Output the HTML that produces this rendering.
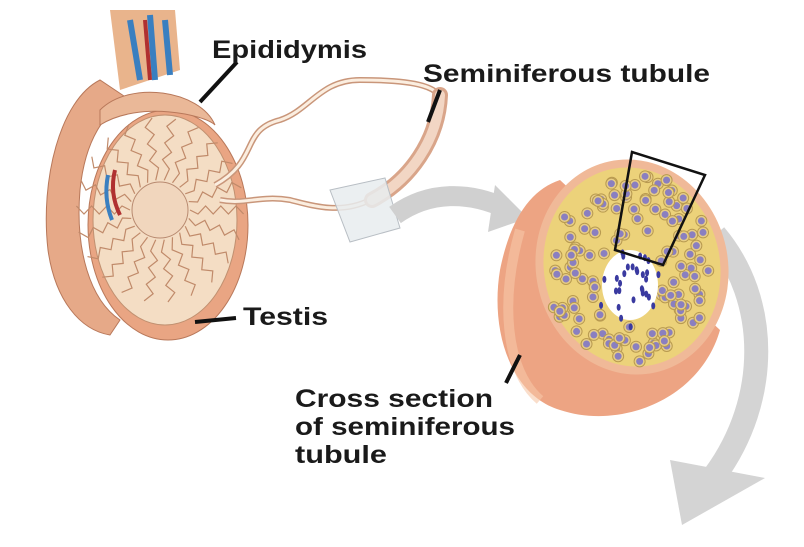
<!DOCTYPE html>
<html><head><meta charset="utf-8"><style>
html,body{margin:0;padding:0;background:#fff;width:804px;height:547px;overflow:hidden}
svg{display:block}
text{font-family:"Liberation Sans",sans-serif;font-weight:bold;fill:#1a1a1a}
</style></head><body>
<svg id="s" width="804" height="547" viewBox="0 0 804 547">
<path d="M110,10 L175,10 L180,70 L120,90 Z" fill="#e9b48c"/>
<path d="M130,20 L140,80 M150,15 L155,80 M165,20 L170,75" stroke="#3a7fc0" stroke-width="6" fill="none"/>
<path d="M145,20 L150,80" stroke="#b03030" stroke-width="4"/>
<path d="M100,80 C60,100 40,180 48,250 C55,300 80,330 110,335 L120,320 C90,300 75,250 80,190 C85,140 105,110 130,100 Z" fill="#e6a988" stroke="#b8785a"/>
<ellipse cx="168" cy="225" rx="80" ry="115" fill="#e9a583" stroke="#b8785a"/>
<ellipse cx="165" cy="220" rx="72" ry="105" fill="#f4ddc4" stroke="#c09070"/>
<path d="M100,110 C130,80 200,90 215,125 C205,115 140,100 100,125 Z" fill="#eab898" stroke="#b8785a"/>
<g id="lobes" stroke="#c08a6a" stroke-width="1.2" fill="none"></g>
<circle cx="160" cy="210" r="28" fill="#f1d6bd" stroke="#b88a70"/>
<path d="M115,170 C110,190 115,205 120,215" stroke="#b03030" stroke-width="4" fill="none"/>
<path d="M108,175 C104,195 108,210 112,220" stroke="#3a7fc0" stroke-width="4" fill="none"/>
<path d="M215,185 C260,160 240,130 280,120 C310,110 320,80 360,80 C410,80 450,85 440,110 C430,150 400,185 370,200 C340,215 310,205 290,200 C260,195 245,205 220,200" stroke="#c9967a" stroke-width="6" fill="none"/>
<path d="M215,185 C260,160 240,130 280,120 C310,110 320,80 360,80 C410,80 450,85 440,110 C430,150 400,185 370,200 C340,215 310,205 290,200 C260,195 245,205 220,200" stroke="#fbeee0" stroke-width="3" fill="none"/>
<path d="M440,95 C438,140 410,180 372,200" stroke="#d9a58a" stroke-width="16" fill="none" stroke-linecap="round"/>
<path d="M440,95 C438,140 410,180 372,200" stroke="#f2d6c4" stroke-width="10" fill="none" stroke-linecap="round"/>
<path d="M330,190 L385,178 L400,228 L350,242 Z" fill="#e8ecef" fill-opacity="0.85" stroke="#b8bec4"/>
<path d="M395,215 C430,190 470,192 505,208" stroke="#d0d0d0" stroke-width="20" fill="none"/>
<polygon points="495,185 528,218 488,232" fill="#d0d0d0"/>
<path d="M715,235 C770,300 770,400 715,475" stroke="#d4d4d4" stroke-width="24" fill="none"/>
<polygon points="670,460 765,478 682,525" fill="#d4d4d4"/>
<path d="M560,180 L720,330 C700,400 620,430 560,410 C510,395 490,330 500,270 C510,220 530,190 560,180 Z" fill="#eda483"/>
<path d="M520,230 C500,300 505,370 540,400" stroke="#f7c8a8" stroke-width="10" fill="none" opacity="0.6"/>
<ellipse cx="632" cy="267" rx="96" ry="108" transform="rotate(-12 632 267)" fill="#f0b998"/>
<ellipse cx="632" cy="267" rx="88" ry="100" transform="rotate(-12 632 267)" fill="#ecd27a"/>
<g id="cells"></g>
<ellipse cx="630" cy="285" rx="28" ry="35" fill="#fff"/>
<g id="sperm"></g>
<path d="M632,152 L705,175 L663,265 L615,250 Z" fill="none" stroke="#111" stroke-width="2.5"/>
<g stroke="#111" stroke-width="4">
<line x1="237" y1="62" x2="200" y2="102"/>
<line x1="440" y1="90" x2="428" y2="122"/>
<line x1="195" y1="322" x2="236" y2="318"/>
<line x1="520" y1="355" x2="506" y2="383"/>
</g>
<text x="212" y="58" font-size="25" textLength="155" lengthAdjust="spacingAndGlyphs">Epididymis</text>
<text x="423" y="82" font-size="25" textLength="287" lengthAdjust="spacingAndGlyphs">Seminiferous tubule</text>
<text x="243" y="325" font-size="25" textLength="85" lengthAdjust="spacingAndGlyphs">Testis</text>
<text x="295" y="407" font-size="25" textLength="198" lengthAdjust="spacingAndGlyphs">Cross section</text>
<text x="295" y="435" font-size="25" textLength="220" lengthAdjust="spacingAndGlyphs">of seminiferous</text>
<text x="295" y="463" font-size="25" textLength="92" lengthAdjust="spacingAndGlyphs">tubule</text>
</svg>
<script>
var NS="http://www.w3.org/2000/svg";
function el(t,a,p){var e=document.createElementNS(NS,t);for(var k in a)e.setAttribute(k,a[k]);document.getElementById(p).appendChild(e);}
for(var i=0;i<22;i++){var a=i/22*Math.PI*2,c=Math.cos(a),s=Math.sin(a);
 var d="M"+(160+30*c)+","+(210+30*s);
 for(var r=40;r<=95;r+=8){var w=(r%16?4:-4);d+=" L"+(160+r*c*0.95-w*s)+","+(210+r*s*1.05+w*c);}
 el("path",{d:d},"lobes");}
for(var r2=6;r2<26;r2+=7)for(var j=0;j<12;j++){var b=j/12*Math.PI*2;el("circle",{cx:160+r2*Math.cos(b),cy:210+r2*Math.sin(b),r:2.5,fill:"#d9a888"},"lobes");}
var seed=3;function rnd(){seed=(seed*9301+49297)%233280;return seed/233280;}
for(var k=0;k<260;k++){var x=540+rnd()*190,y=160+rnd()*215;
 var dx=(x-632),dy=(y-267),rx=dx*Math.cos(0.21)+dy*Math.sin(0.21),ry=-dx*Math.sin(0.21)+dy*Math.cos(0.21);
 if((rx*rx)/(84*84)+(ry*ry)/(96*96)>1)continue;
 if(((x-630)*(x-630))/(32*32)+((y-285)*(y-285))/(40*40)<1)continue;
 el("circle",{cx:x,cy:y,r:5.5,fill:"#e7cd86",stroke:"#b89a50","stroke-width":1},"cells");
 el("circle",{cx:x,cy:y,r:3.5,fill:"#8a7fc0"},"cells");}
for(var m=0;m<30;m++){var a2=rnd()*Math.PI*2,rr=10+rnd()*25;
 el("ellipse",{cx:630+rr*Math.cos(a2),cy:285+rr*1.2*Math.sin(a2),rx:2,ry:3.5,fill:"#3a3aa0"},"sperm");}
</script>
</body></html>
